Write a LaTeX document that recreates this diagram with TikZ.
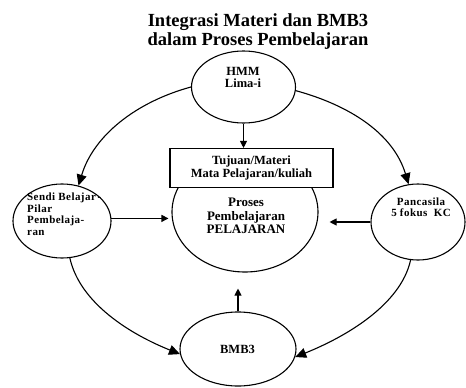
\documentclass[tikz,border=0pt]{standalone}
\usepackage{fontspec}
\setmainfont{Liberation Serif}
\usetikzlibrary{shapes.geometric,arrows.meta}
\begin{document}
\begin{tikzpicture}[x=1pt,y=-1pt,
  every node/.style={font=\bfseries},
  oval/.style={draw,ellipse,line width=1.1pt,inner sep=0pt},
  lbl/.style={align=center,inner sep=0pt},
  arr/.style={line width=1.1pt,-{Triangle[length=7pt,width=7pt]}},
  carr/.style={line width=1.1pt,-{Triangle[length=11pt,width=10pt]}}]
\useasboundingbox (0,0) rectangle (466,388);
% title
\node[lbl,font=\bfseries\fontsize{18.5}{19}\selectfont] (title) at (258,32)
  {Integrasi Materi dan BMB3\\dalam Proses Pembelajaran};
% ellipses
\node[oval,minimum width=104pt,minimum height=72pt] (hmm) at (243.5,87) {};
\node[oval,minimum width=146pt,minimum height=120pt] (proses) at (245,212) {};
\node[oval,minimum width=98pt,minimum height=74pt] (sendi) at (62,221) {};
\node[oval,minimum width=94pt,minimum height=76pt] (panc) at (418,222) {};
\node[oval,minimum width=116pt,minimum height=74pt] (bmb) at (238,349) {};
% box
\node[draw,line width=1.1pt,fill=white,minimum width=163pt,minimum height=39pt,
  align=center,inner sep=0pt,font=\bfseries\fontsize{12.5}{13}\selectfont] (box) at (251.5,168)
  {Tujuan/Materi\\Mata Pelajaran/kuliah};
% labels
\node[lbl,font=\bfseries\fontsize{12.5}{11.5}\selectfont] (hmmT) at (243,77.5) {HMM\\Lima-i};
\node[lbl,font=\bfseries\fontsize{13}{13.5}\selectfont] (prosesT) at (246,216)
  {Proses\\Pembelajaran\\PELAJARAN};
\node[lbl,align=left,anchor=west,font=\bfseries\fontsize{11}{11.5}\selectfont\addfontfeatures{LetterSpace=4}] (sendiT) at (27,214)
  {Sendi Belajar\,-\\Pilar\\Pembelaja-\\ran};
\node[lbl,font=\bfseries\fontsize{11}{11}\selectfont\addfontfeatures{LetterSpace=4}] (pancT) at (421,207.5)
  {Pancasila\\5 fokus\ \ KC};
\node[lbl,font=\bfseries\fontsize{12.5}{13}\selectfont] (bmbT) at (237.5,349) {BMB3};
% straight arrows
\draw[arr] (hmm.south) -- (hmm.south |- box.north);
\draw[arr,shorten >=3pt] (sendi.3) -- (sendi.3 -| proses.west);
\draw[arr,shorten >=11pt] (panc.west) -- (panc.west -| proses.east);
\draw[arr,shorten >=16pt] (bmb.north) -- (bmb.north |- proses.south);
% curved arrows
\draw[carr] (hmm.west) .. controls +(-55,15) and +(15,-50) .. (sendi.65);
\draw[carr] (hmm.-4) .. controls +(55,15) and +(-15,-50) .. (panc.104);
\draw[carr] (sendi.-78) .. controls +(10,45) and +(-50,-20) .. (bmb.185);
\draw[carr] (panc.-101) .. controls +(-10,45) and +(50,-20) .. (bmb.-8);
\end{tikzpicture}
\end{document}
